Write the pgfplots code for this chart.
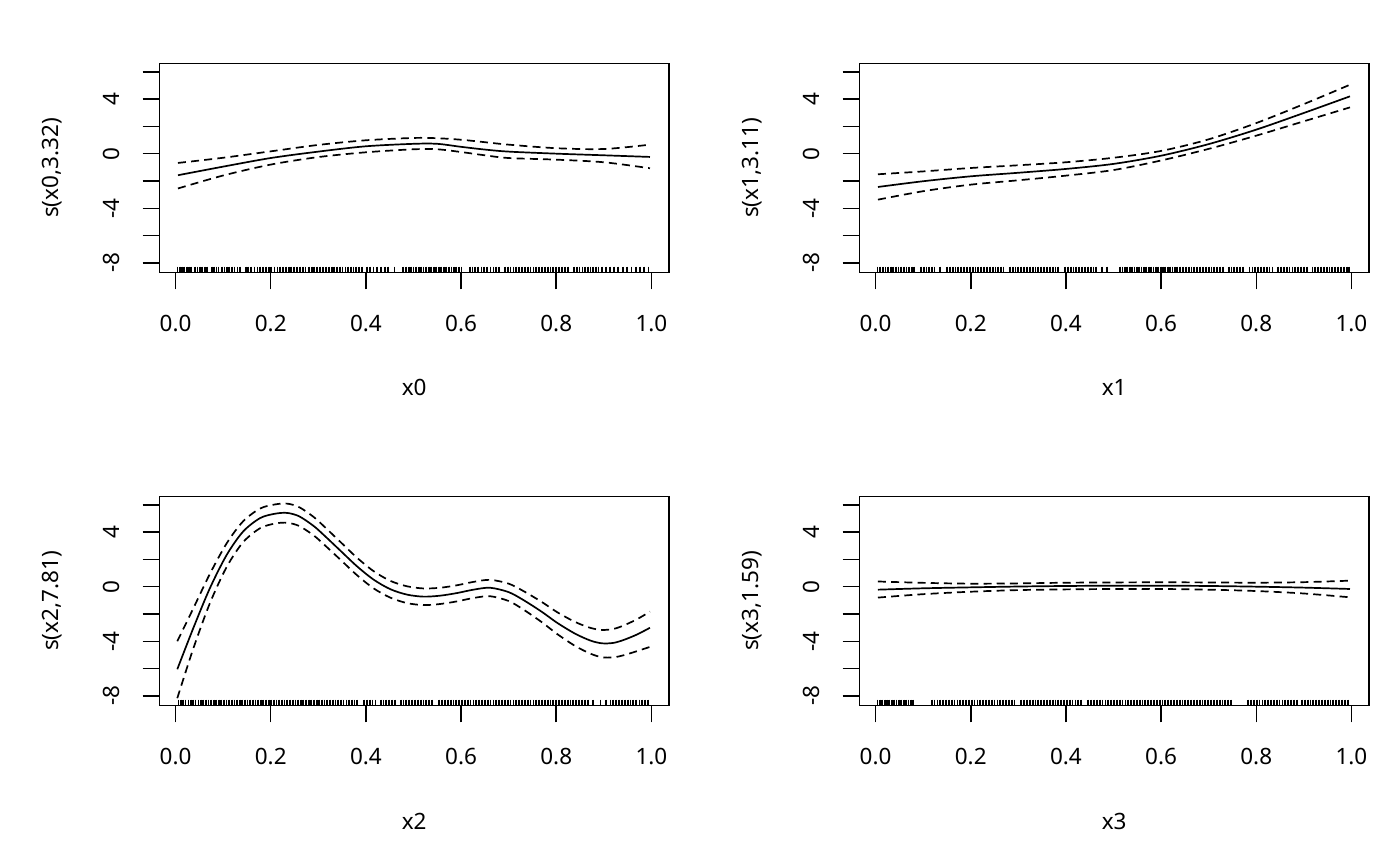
\documentclass[border=0pt]{standalone}
\usepackage{fontspec}
\setmainfont{Noto Sans}
\usepackage{pgfplots}
\usepackage{pgfplotstable}
\pgfplotsset{compat=1.18}

\pgfplotstableread{
x s u l
0.005 -1.58 -0.68 -2.55
0.1 -0.95 -0.30 -1.60
0.2 -0.32 0.17 -0.80
0.3 0.15 0.64 -0.25
0.4 0.54 0.98 0.10
0.5 0.72 1.15 0.32
0.55 0.72 1.13 0.32
0.6 0.50 1.02 0.12
0.65 0.30 0.84 -0.12
0.7 0.15 0.66 -0.32
0.8 0.00 0.40 -0.44
0.9 -0.12 0.34 -0.63
0.997 -0.24 0.66 -1.07
}\pA

\pgfplotstableread{
x s u l
0.005 -2.44 -1.51 -3.37
0.1 -2.02 -1.30 -2.75
0.2 -1.66 -1.05 -2.27
0.3 -1.40 -0.85 -1.95
0.4 -1.12 -0.63 -1.61
0.5 -0.75 -0.30 -1.20
0.6 -0.15 0.20 -0.50
0.7 0.70 1.05 0.35
0.8 1.76 2.24 1.32
0.9 2.98 3.63 2.37
0.997 4.20 5.05 3.39
}\pB

\pgfplotstableread{
x s u l
0.0036 -6.05 -4.00 -8.17
0.037 -3.06 -1.61 -4.56
0.072 -0.12 0.93 -1.22
0.1075 2.33 3.18 1.45
0.142 4.04 4.79 3.26
0.178 5.03 5.73 4.29
0.21 5.35 6.03 4.63
0.235 5.40 6.08 4.68
0.26 5.15 5.82 4.44
0.29 4.45 5.11 3.76
0.311 3.80 4.45 3.12
0.346 2.65 3.29 1.99
0.381 1.50 2.13 0.85
0.416 0.52 1.14 -0.12
0.451 -0.18 0.43 -0.80
0.486 -0.58 0.03 -1.20
0.521 -0.73 -0.13 -1.35
0.556 -0.66 -0.08 -1.27
0.591 -0.47 0.10 -1.08
0.626 -0.22 0.35 -0.83
0.661 -0.08 0.50 -0.70
0.70 -0.40 0.22 -1.05
0.732 -1.00 -0.34 -1.70
0.77 -1.85 -1.13 -2.61
0.802 -2.65 -1.87 -3.47
0.84 -3.45 -2.59 -4.35
0.872 -3.95 -3.02 -4.91
0.896 -4.15 -3.17 -5.17
0.92 -4.12 -3.10 -5.18
0.942 -3.90 -2.84 -5.02
0.97 -3.50 -2.38 -4.72
0.997 -3.01 -1.83 -4.41
}\pC

\pgfplotstableread{
x s u l
0.005 -0.22 0.38 -0.80
0.1 -0.12 0.28 -0.55
0.2 -0.05 0.22 -0.37
0.3 0.01 0.24 -0.25
0.4 0.05 0.29 -0.20
0.5 0.07 0.31 -0.17
0.6 0.07 0.32 -0.17
0.7 0.05 0.31 -0.22
0.8 0.00 0.29 -0.32
0.9 -0.07 0.33 -0.50
0.997 -0.17 0.44 -0.78
}\pD

\pgfplotstableread[row sep=\\,header=false]{0.004\\0.009\\0.013\\0.018\\0.024\\0.029\\0.033\\0.040\\0.046\\0.051\\0.055\\0.061\\0.066\\0.076\\0.081\\0.086\\0.090\\0.097\\0.103\\0.108\\0.113\\0.119\\0.124\\0.130\\0.135\\0.148\\0.153\\0.159\\0.166\\0.172\\0.177\\0.184\\0.190\\0.196\\0.201\\0.208\\0.214\\0.219\\0.226\\0.232\\0.238\\0.243\\0.249\\0.256\\0.262\\0.267\\0.273\\0.280\\0.286\\0.291\\0.298\\0.304\\0.309\\0.316\\0.322\\0.328\\0.333\\0.339\\0.345\\0.351\\0.357\\0.363\\0.368\\0.374\\0.380\\0.386\\0.392\\0.403\\0.409\\0.416\\0.423\\0.431\\0.440\\0.446\\0.460\\0.478\\0.484\\0.490\\0.495\\0.500\\0.506\\0.511\\0.516\\0.521\\0.527\\0.532\\0.537\\0.543\\0.548\\0.553\\0.558\\0.564\\0.569\\0.574\\0.580\\0.585\\0.590\\0.595\\0.601\\0.618\\0.624\\0.630\\0.636\\0.643\\0.649\\0.655\\0.662\\0.668\\0.674\\0.680\\0.692\\0.698\\0.704\\0.710\\0.716\\0.722\\0.728\\0.734\\0.740\\0.746\\0.752\\0.758\\0.764\\0.770\\0.776\\0.782\\0.788\\0.794\\0.800\\0.806\\0.812\\0.818\\0.824\\0.838\\0.843\\0.849\\0.855\\0.860\\0.866\\0.872\\0.877\\0.883\\0.889\\0.896\\0.905\\0.913\\0.922\\0.930\\0.940\\0.949\\0.958\\0.967\\0.976\\0.985\\0.994\\}\rA

\pgfplotstableread[row sep=\\,header=false]{0.004\\0.010\\0.015\\0.021\\0.026\\0.032\\0.037\\0.043\\0.048\\0.054\\0.059\\0.065\\0.070\\0.076\\0.081\\0.095\\0.101\\0.107\\0.112\\0.118\\0.124\\0.136\\0.150\\0.156\\0.162\\0.168\\0.174\\0.180\\0.186\\0.192\\0.198\\0.204\\0.210\\0.216\\0.222\\0.228\\0.234\\0.240\\0.246\\0.252\\0.258\\0.264\\0.269\\0.282\\0.288\\0.294\\0.300\\0.306\\0.312\\0.318\\0.324\\0.330\\0.336\\0.342\\0.348\\0.354\\0.360\\0.366\\0.372\\0.378\\0.384\\0.398\\0.404\\0.410\\0.416\\0.422\\0.428\\0.434\\0.440\\0.446\\0.452\\0.458\\0.464\\0.476\\0.487\\0.514\\0.519\\0.524\\0.529\\0.534\\0.539\\0.544\\0.549\\0.554\\0.559\\0.564\\0.569\\0.574\\0.579\\0.584\\0.589\\0.594\\0.599\\0.604\\0.609\\0.614\\0.619\\0.624\\0.629\\0.634\\0.640\\0.646\\0.652\\0.658\\0.664\\0.670\\0.676\\0.682\\0.688\\0.694\\0.700\\0.706\\0.712\\0.718\\0.724\\0.730\\0.742\\0.748\\0.754\\0.760\\0.766\\0.772\\0.786\\0.792\\0.798\\0.804\\0.810\\0.816\\0.822\\0.828\\0.834\\0.846\\0.852\\0.858\\0.864\\0.870\\0.876\\0.882\\0.888\\0.894\\0.900\\0.906\\0.918\\0.924\\0.930\\0.936\\0.942\\0.948\\0.954\\0.960\\0.966\\0.972\\0.978\\0.984\\0.990\\0.995\\}\rB

\pgfplotstableread[row sep=\\,header=false]{0.006\\0.011\\0.016\\0.021\\0.027\\0.032\\0.037\\0.042\\0.048\\0.053\\0.058\\0.064\\0.069\\0.074\\0.080\\0.085\\0.091\\0.096\\0.102\\0.107\\0.113\\0.118\\0.124\\0.129\\0.135\\0.140\\0.146\\0.151\\0.157\\0.162\\0.168\\0.173\\0.179\\0.184\\0.190\\0.196\\0.201\\0.207\\0.212\\0.218\\0.224\\0.229\\0.235\\0.240\\0.246\\0.252\\0.257\\0.263\\0.268\\0.274\\0.280\\0.285\\0.291\\0.297\\0.302\\0.308\\0.313\\0.319\\0.325\\0.330\\0.336\\0.342\\0.347\\0.353\\0.359\\0.364\\0.370\\0.376\\0.381\\0.396\\0.402\\0.408\\0.414\\0.420\\0.431\\0.437\\0.443\\0.449\\0.455\\0.461\\0.473\\0.479\\0.485\\0.491\\0.497\\0.503\\0.509\\0.515\\0.521\\0.527\\0.533\\0.539\\0.554\\0.560\\0.566\\0.572\\0.578\\0.584\\0.590\\0.596\\0.602\\0.608\\0.614\\0.620\\0.626\\0.632\\0.638\\0.644\\0.650\\0.656\\0.662\\0.668\\0.674\\0.680\\0.686\\0.692\\0.698\\0.704\\0.710\\0.716\\0.722\\0.728\\0.734\\0.740\\0.746\\0.752\\0.758\\0.764\\0.770\\0.776\\0.782\\0.788\\0.794\\0.800\\0.806\\0.812\\0.818\\0.824\\0.830\\0.836\\0.842\\0.848\\0.854\\0.860\\0.866\\0.878\\0.893\\0.905\\0.914\\0.920\\0.926\\0.932\\0.938\\0.944\\0.950\\0.956\\0.962\\0.968\\0.975\\0.981\\0.987\\0.993\\}\rC

\pgfplotstableread[row sep=\\,header=false]{0.004\\0.009\\0.014\\0.019\\0.024\\0.029\\0.034\\0.039\\0.044\\0.049\\0.054\\0.059\\0.064\\0.069\\0.074\\0.079\\0.118\\0.124\\0.130\\0.136\\0.142\\0.148\\0.154\\0.160\\0.166\\0.172\\0.178\\0.184\\0.190\\0.196\\0.202\\0.208\\0.214\\0.220\\0.226\\0.232\\0.238\\0.244\\0.250\\0.256\\0.262\\0.268\\0.274\\0.280\\0.286\\0.292\\0.306\\0.312\\0.318\\0.324\\0.330\\0.336\\0.342\\0.348\\0.354\\0.360\\0.366\\0.372\\0.378\\0.384\\0.390\\0.396\\0.402\\0.408\\0.414\\0.420\\0.426\\0.432\\0.447\\0.453\\0.459\\0.465\\0.471\\0.477\\0.483\\0.489\\0.495\\0.501\\0.507\\0.513\\0.519\\0.525\\0.531\\0.537\\0.543\\0.549\\0.555\\0.561\\0.567\\0.573\\0.579\\0.585\\0.591\\0.597\\0.603\\0.609\\0.615\\0.621\\0.627\\0.633\\0.639\\0.645\\0.651\\0.657\\0.663\\0.669\\0.675\\0.681\\0.687\\0.693\\0.699\\0.705\\0.711\\0.717\\0.723\\0.729\\0.735\\0.741\\0.747\\0.783\\0.789\\0.795\\0.801\\0.807\\0.813\\0.819\\0.825\\0.831\\0.837\\0.843\\0.849\\0.855\\0.861\\0.867\\0.873\\0.879\\0.885\\0.896\\0.902\\0.908\\0.914\\0.920\\0.926\\0.932\\0.938\\0.944\\0.950\\0.956\\0.962\\0.968\\0.974\\0.980\\0.986\\0.992\\}\rD

\newcommand{\fs}{\fontsize{11.25pt}{13.5pt}\selectfont}
\pgfplotsset{
  gam/.style={
    scale only axis, width=254.8pt, height=104.7pt,
    xmin=-0.034, xmax=1.037, ymin=-8.72, ymax=6.62,
    axis line style={line width=0.75pt},
    tick style={black, line width=0.75pt},
    tick align=outside, major tick length=8.35pt,
    xtick={0,0.2,0.4,0.6,0.8,1}, xticklabels={0.0,0.2,0.4,0.6,0.8,1.0},
    ytick={-8,-6,-4,-2,0,2,4,6}, yticklabels={-8,,-4,,0,,4,},
    xtick pos=bottom, ytick pos=left,
    tick label style={font=\fs, inner sep=0pt},
    xticklabel style={anchor=base},
    yticklabel style={rotate=90, anchor=base},
    xticklabel shift=20.9pt, yticklabel shift=11.45pt,
    every axis x label/.style={at={(axis description cs:0.5,0)}, anchor=base, inner sep=0pt, yshift=-61.65pt, font=\fs},
    every axis y label/.style={at={(axis description cs:0,0.5)}, xshift=-50.6pt, rotate=90, anchor=base, inner sep=0pt, font=\fs},
    /pgf/number format/assume math mode=true,
  },
  fit/.style={black, line width=0.85pt, smooth, no marks},
  band/.style={black, line width=0.85pt, smooth, no marks, dash pattern=on 4pt off 2.6pt},
  rug/.style={black, only marks, mark=|, mark size=1.5pt, mark options={line width=0.9pt, solid}},
}

\begin{document}
\begin{tikzpicture}
\path[use as bounding box] (0,0) rectangle (700pt,433pt);

\begin{axis}[gam, at={(79.7pt,296.65pt)}, anchor=south west, xlabel={x0}, ylabel={s(x0,3.32)}]
\addplot[band] table[x=x,y=u]{\pA};
\addplot[fit] table[x=x,y=s]{\pA};
\addplot[band] table[x=x,y=l]{\pA};
\addplot[rug] table[x index=0,y index=0,y expr=-8.5]{\rA};
\end{axis}

\begin{axis}[gam, at={(429.7pt,296.65pt)}, anchor=south west, xlabel={x1}, ylabel={s(x1,3.11)}]
\addplot[band] table[x=x,y=u]{\pB};
\addplot[fit] table[x=x,y=s]{\pB};
\addplot[band] table[x=x,y=l]{\pB};
\addplot[rug] table[x index=0,y index=0,y expr=-8.5]{\rB};
\end{axis}

\begin{axis}[gam, at={(79.7pt,80.15pt)}, anchor=south west, xlabel={x2}, ylabel={s(x2,7.81)}]
\addplot[band] table[x=x,y=u]{\pC};
\addplot[fit] table[x=x,y=s]{\pC};
\addplot[band] table[x=x,y=l]{\pC};
\addplot[rug] table[x index=0,y index=0,y expr=-8.5]{\rC};
\end{axis}

\begin{axis}[gam, at={(429.7pt,80.15pt)}, anchor=south west, xlabel={x3}, ylabel={s(x3,1.59)}]
\addplot[band] table[x=x,y=u]{\pD};
\addplot[fit] table[x=x,y=s]{\pD};
\addplot[band] table[x=x,y=l]{\pD};
\addplot[rug] table[x index=0,y index=0,y expr=-8.5]{\rD};
\end{axis}
\end{tikzpicture}
\end{document}
